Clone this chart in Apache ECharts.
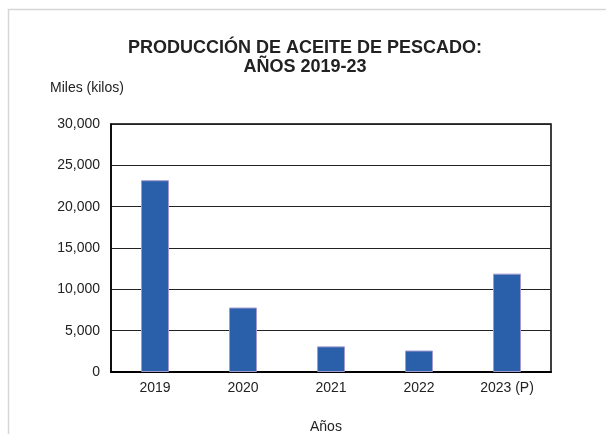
<!DOCTYPE html>
<html>
<head>
<meta charset="utf-8">
<script src="https://cdn.jsdelivr.net/npm/echarts@6/dist/echarts.min.js"></script>
<style>
  html, body { margin: 0; padding: 0; background: #fff; }
  #chart { width: 606px; height: 434px; }
</style>
</head>
<body>
<div id="chart"></div>
<script>
// Producción de aceite de pescado, miles de kilos
const years = ['2019', '2020', '2021', '2022', '2023 (P)'];
const production = [23200, 7800, 3100, 2600, 11900];
const yTicks = [0, 5000, 10000, 15000, 20000, 25000, 30000];

const font = 'Liberation Sans, Arial, sans-serif';
const chart = echarts.init(document.getElementById('chart'), null, { renderer: 'canvas' });

chart.setOption({
  animation: false,
  backgroundColor: '#ffffff',
  title: {
    text: 'PRODUCCIÓN DE ACEITE DE PESCADO:\nAÑOS 2019-23',
    left: 300,
    top: 34,
    textAlign: 'center',
    textStyle: { fontFamily: font, fontSize: 18, fontWeight: 'bold', color: '#222', lineHeight: 19 }
  },
  graphic: [
    { type: 'rect', shape: { x: 8.5, y: 9.5, width: 610, height: 440 }, style: { fill: 'none', stroke: '#d6d6d6', lineWidth: 1.5 }, silent: true },
    { type: 'text', left: 50, top: 81, style: { text: 'Miles (kilos)', font: '14px ' + font, fill: '#222' } },
    { type: 'text', left: 310, top: 420, style: { text: 'Años', font: '14px ' + font, fill: '#222' } }
  ],
  grid: {
    left: 111, right: 55, top: 124, bottom: 62,
    show: true, borderColor: '#000', borderWidth: 1.5, backgroundColor: 'transparent'
  },
  xAxis: {
    type: 'category',
    data: years,
    axisLine: { lineStyle: { color: '#000', width: 2 } },
    axisTick: { show: false },
    axisLabel: { fontFamily: font, fontSize: 14, color: '#222', margin: 9 }
  },
  yAxis: {
    type: 'value',
    min: yTicks[0],
    max: yTicks[yTicks.length - 1],
    interval: 5000,
    axisLine: { show: true, lineStyle: { color: '#000', width: 1.5 } },
    axisTick: { show: false },
    splitLine: { lineStyle: { color: '#222', width: 1 } },
    axisLabel: {
      fontFamily: font, fontSize: 14, color: '#222', margin: 11,
      formatter: v => v.toLocaleString('en-US')
    }
  },
  series: [{
    type: 'bar',
    data: production,
    barWidth: 28,
    itemStyle: { color: '#2a5fa9', borderColor: '#a39bd0', borderWidth: 1 }
  }]
});
</script>
</body>
</html>
